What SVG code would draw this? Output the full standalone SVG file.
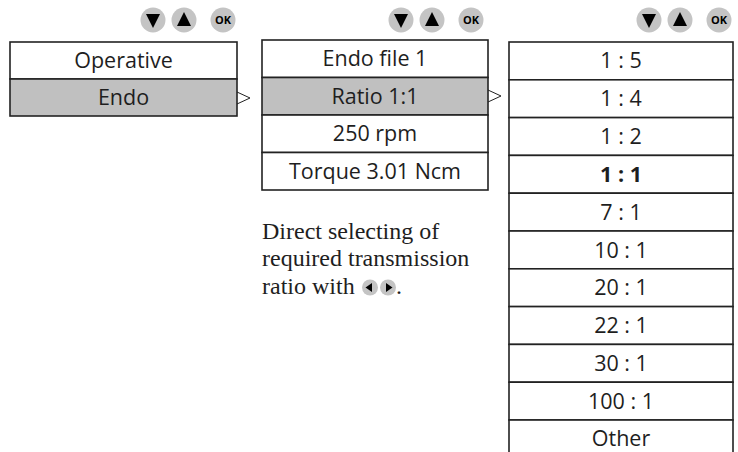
<svg xmlns="http://www.w3.org/2000/svg" width="738" height="452" viewBox="0 0 738 452">
<style>
.box{fill:#fff;stroke:#222;stroke-width:1.6}
.sel{fill:#c0c0c0;stroke:#222;stroke-width:1.6}
.t{font-family:"Open Sans","Noto Sans",sans-serif;font-size:21.5px;fill:#1e1e1e;text-anchor:middle}
.b{font-weight:bold}
.btn{fill:#c4c4c4}
.tri{fill:#000}
.ok{font-family:"Open Sans",sans-serif;font-size:11px;font-weight:bold;fill:#000;text-anchor:middle}
.s{font-family:"Liberation Serif",serif;font-size:24px;fill:#1e1e1e}
.chev{fill:none;stroke:#222;stroke-width:1}
</style>
<defs>
<g id="btns">
<circle class="btn" cx="0" cy="0" r="12.5"/>
<polygon class="tri" points="-7,-6 7,-6 0,8"/>
<circle class="btn" cx="31" cy="0" r="12.5"/>
<polygon class="tri" points="24,6 38,6 31,-8"/>
<circle class="btn" cx="70" cy="0" r="12.5"/>
<text class="ok" x="70" y="4">OK</text>
</g>
</defs>
<g id="buttons1"><use href="#btns" x="153" y="20"/></g>
<g id="buttons2"><use href="#btns" x="401" y="20"/></g>
<g id="buttons3"><use href="#btns" x="649" y="20"/></g>

<g id="menu1">
<rect class="box" x="10" y="42" width="227" height="37"/>
<text class="t" x="123.5" y="68">Operative</text>
<rect class="sel" x="10" y="79" width="227" height="37"/>
<text class="t" x="123.5" y="105">Endo</text>
</g>

<g id="menu2">
<rect class="box" x="262" y="40" width="226" height="37.5"/>
<text class="t" x="375" y="66">Endo file 1</text>
<rect class="sel" x="262" y="77.5" width="226" height="37.5"/>
<text class="t" x="375" y="104">Ratio 1:1</text>
<rect class="box" x="262" y="115" width="226" height="37.5"/>
<text class="t" x="375" y="141">250 rpm</text>
<rect class="box" x="262" y="152.5" width="226" height="37.5"/>
<text class="t" x="375" y="179">Torque 3.01 Ncm</text>
</g>

<g id="menu3">
<rect class="box" x="509" y="42" width="224" height="37.8"/>
<text class="t" x="621" y="68">1 : 5</text>
<rect class="box" x="509" y="79.8" width="224" height="37.8"/>
<text class="t" x="621" y="106">1 : 4</text>
<rect class="box" x="509" y="117.6" width="224" height="37.8"/>
<text class="t" x="621" y="144">1 : 2</text>
<rect class="box" x="509" y="155.4" width="224" height="37.8"/>
<text class="t b" x="621" y="182">1 : 1</text>
<rect class="box" x="509" y="193.2" width="224" height="37.8"/>
<text class="t" x="621" y="219.5">7 : 1</text>
<rect class="box" x="509" y="231" width="224" height="37.8"/>
<text class="t" x="621" y="257.5">10 : 1</text>
<rect class="box" x="509" y="268.8" width="224" height="37.8"/>
<text class="t" x="621" y="295">20 : 1</text>
<rect class="box" x="509" y="306.6" width="224" height="37.8"/>
<text class="t" x="621" y="333">22 : 1</text>
<rect class="box" x="509" y="344.4" width="224" height="37.8"/>
<text class="t" x="621" y="371">30 : 1</text>
<rect class="box" x="509" y="382.2" width="224" height="37.8"/>
<text class="t" x="621" y="408.5">100 : 1</text>
<rect class="box" x="509" y="420" width="224" height="40"/>
<text class="t" x="621" y="446">Other</text>
</g>

<g id="connectors">
<polyline class="chev" points="237,92 250,98 237,104"/>
<polyline class="chev" points="488,90 501,96 488,102"/>
</g>

<g id="note">
<text class="s" x="262" y="238.5">Direct selecting of</text>
<text class="s" x="262" y="266">required transmission</text>
<text class="s" x="262" y="293.5">ratio with</text>
<circle class="btn" cx="370" cy="287.5" r="8"/>
<polygon class="tri" points="365.5,287.5 372,283 372,292"/>
<circle class="btn" cx="388" cy="287.5" r="8"/>
<polygon class="tri" points="392.5,287.5 386,283 386,292"/>
<text class="s" x="396" y="293.5">.</text>
</g>
</svg>
